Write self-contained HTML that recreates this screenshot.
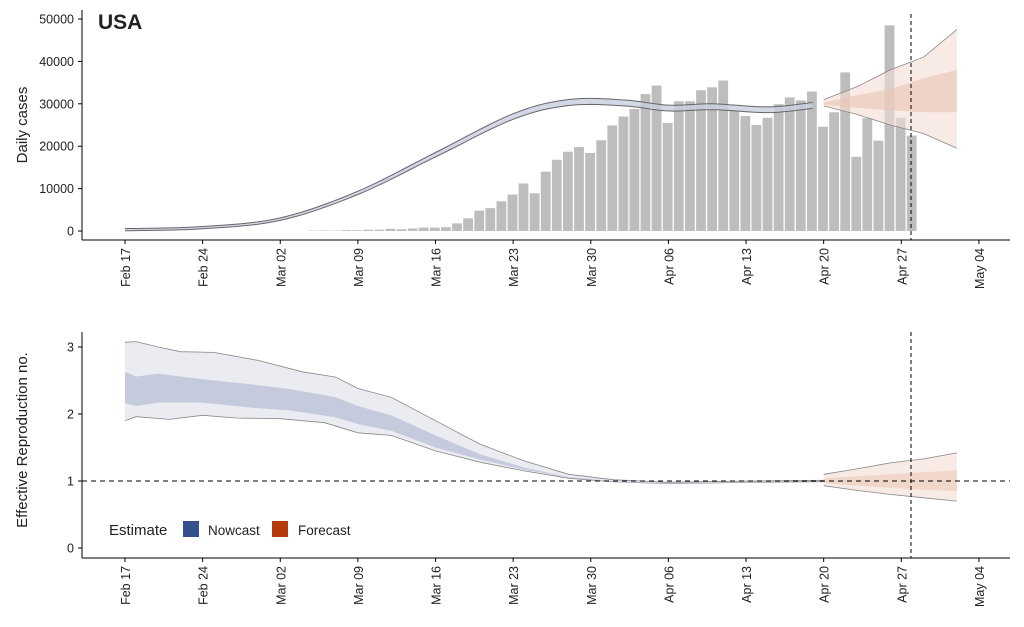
<!DOCTYPE html>
<html><head><meta charset="utf-8"><style>
body{margin:0;background:#fff;width:1024px;height:622px;overflow:hidden}
svg text{font-family:"Liberation Sans",sans-serif;fill:#222}
</style></head><body>
<svg id="s" width="1024" height="622" xmlns="http://www.w3.org/2000/svg"></svg>
<script>
const S=document.getElementById('s');let h='';
const X=d=>125+d*11.09;
const Y1=v=>231-v*4.24;
const bars=[0.1,0.1,0.1,0.2,0.2,0.3,0.3,0.5,0.4,0.6,0.8,0.8,0.9,1.8,3.0,4.8,5.4,7.0,8.6,11.2,8.9,14.0,16.8,18.7,19.8,18.4,21.4,24.9,27.0,28.8,32.3,34.3,25.5,30.6,30.6,33.2,33.9,35.5,28.4,27.1,25.0,26.7,29.9,31.5,30.8,32.9,24.6,28.0,37.4,17.5,26.6,21.3,48.5,26.7,22.5];
bars.forEach((v,i)=>{const d=16+i;h+=`<rect x="${(X(d)+5.5).toFixed(1)}" y="${Y1(v)}" width="9.8" height="${v*4.24}" fill="#bdbdbd"/>`;});
function interp(pts){const out=[];for(let i=0;i<pts.length-1;i++){const p0=pts[Math.max(0,i-1)],p1=pts[i],p2=pts[i+1],p3=pts[Math.min(pts.length-1,i+2)];for(let t=0;t<1;t+=0.1){const t2=t*t,t3=t2*t;const f=(a,b,c,d)=>0.5*((2*b)+(-a+c)*t+(2*a-5*b+4*c-d)*t2+(-a+3*b-3*c+d)*t3);out.push([f(p0[0],p1[0],p2[0],p3[0]),f(p0[1],p1[1],p2[1],p3[1])]);}}out.push(pts[pts.length-1]);return out;}
const nc=interp([[0,0.3],[7,0.8],[14,2.8],[21,9],[28,18],[35,27],[40,30.3],[45,30.2],[49,29],[53,29.3],[58,28.6],[62,29.6]]);
function path(pts,f){return pts.map((p,i)=>(i?'L':'M')+X(p[0]).toFixed(1)+','+f(p[1]).toFixed(1)).join('')}
const up=nc.map(p=>[p[0],p[1]*1.015+0.25]),lo=nc.map(p=>[p[0],p[1]*0.985-0.25]);
h+=`<path d="${path(up,Y1)}L${path(lo.slice().reverse(),Y1).slice(1)}Z" fill="#c9cde0" opacity="0.8"/>`;
h+=`<path d="${path(up,Y1)}" fill="none" stroke="#666" stroke-width="1"/><path d="${path(lo,Y1)}" fill="none" stroke="#666" stroke-width="1"/>`;
const fo_hi=[[63,31],[66,34],[69,38],[72,41],[75,47.5]],fo_lo=[[63,29.5],[66,27.5],[69,25],[72,23],[75,19.5]];
const fi_hi=[[63,30.3],[66,32],[69,33.5],[72,36],[75,38]],fi_lo=[[63,29.8],[66,29],[69,28.5],[72,28],[75,28]];
function band(a,b,f,c,op,st){let s=`<path d="${path(a,f)}L${path(b.slice().reverse(),f).slice(1)}Z" fill="${c}" opacity="${op}"/>`;if(st)s+=`<path d="${path(a,f)}" fill="none" stroke="#888" stroke-width=".8"/><path d="${path(b,f)}" fill="none" stroke="#888" stroke-width=".8"/>`;return s;}
h+=band(fo_hi,fo_lo,Y1,'#f3ddd3',0.6,1)+band(fi_hi,fi_lo,Y1,'#e9c3b2',0.6);
h+=`<line x1="82" y1="10" x2="82" y2="240" stroke="#000"/><line x1="82" y1="240" x2="1010" y2="240" stroke="#000"/>`;
[0,10000,20000,30000,40000,50000].forEach(v=>{const y=Y1(v/1000);h+=`<line x1="78" x2="82" y1="${y}" y2="${y}" stroke="#000"/><text x="74" y="${y+4.5}" font-size="12.5" text-anchor="end">${v}</text>`;});
const labs=['Feb 17','Feb 24','Mar 02','Mar 09','Mar 16','Mar 23','Mar 30','Apr 06','Apr 13','Apr 20','Apr 27','May 04'];
function xt(yb){labs.forEach((l,i)=>{const x=X(i*7);h+=`<line x1="${x}" x2="${x}" y1="${yb}" y2="${yb+4}" stroke="#000"/><text transform="translate(${x+5},${yb+8}) rotate(-90)" font-size="12.5" text-anchor="end">${l}</text>`;});}
xt(240);
h+=`<line x1="911" x2="911" y1="14" y2="240" stroke="#000" stroke-dasharray="4,3"/>`;
h+=`<text x="98" y="29" font-size="21" font-weight="bold">USA</text>`;
h+=`<text transform="translate(27,125) rotate(-90)" font-size="15" text-anchor="middle">Daily cases</text>`;
const Y2=v=>548-v*67;
const ou=[[0,3.07],[1,3.08],[3,3.0],[5,2.93],[8,2.92],[12,2.8],[16,2.63],[19,2.55],[21,2.38],[24,2.25],[28,1.9],[32,1.55],[36,1.3],[40,1.1],[44,1.02],[49,0.98],[56,1.0],[63,1.01]];
const ol=[[0,1.9],[1,1.96],[4,1.92],[7,1.98],[10,1.94],[14,1.93],[18,1.87],[21,1.72],[24,1.68],[28,1.45],[32,1.28],[36,1.15],[40,1.04],[44,0.99],[49,0.96],[56,0.98],[63,0.99]];
const iu=[[0,2.63],[1,2.56],[3,2.6],[7,2.52],[11,2.45],[15,2.37],[19,2.25],[21,2.12],[24,1.98],[28,1.68],[32,1.4],[36,1.2],[40,1.06],[44,1.0],[49,0.97],[56,0.99],[63,1.0]];
const il=[[0,2.16],[1,2.12],[3,2.17],[7,2.17],[11,2.1],[15,2.05],[19,1.95],[21,1.85],[24,1.75],[28,1.5],[32,1.32],[36,1.17],[40,1.05],[44,0.99],[49,0.96],[56,0.98],[63,1.0]];
h+=band(ou,ol,Y2,'#ebecf2',1,1)+band(iu,il,Y2,'#c5cbdd',1);
h+=band([[63,1.1],[66,1.18],[69,1.27],[72,1.33],[75,1.42]],[[63,0.93],[66,0.86],[69,0.8],[72,0.75],[75,0.7]],Y2,'#f5e3db',0.7,1);
h+=band([[63,1.04],[66,1.07],[69,1.1],[72,1.13],[75,1.16]],[[63,0.97],[66,0.93],[69,0.9],[72,0.87],[75,0.85]],Y2,'#ecc8b8',0.6);
h+=`<line x1="82" y1="481" x2="1010" y2="481" stroke="#000" stroke-dasharray="5,4"/>`;
h+=`<line x1="82" y1="332" x2="82" y2="558" stroke="#000"/><line x1="82" y1="558" x2="1010" y2="558" stroke="#000"/>`;
[0,1,2,3].forEach(v=>{const y=Y2(v);h+=`<line x1="78" x2="82" y1="${y}" y2="${y}" stroke="#000"/><text x="74" y="${y+4.5}" font-size="12.5" text-anchor="end">${v}</text>`;});
xt(558);
h+=`<line x1="911" x2="911" y1="332" y2="558" stroke="#000" stroke-dasharray="4,3"/>`;
h+=`<text transform="translate(27,440) rotate(-90)" font-size="15" text-anchor="middle">Effective Reproduction no.</text>`;
h+=`<text x="109" y="535" font-size="15">Estimate</text><rect x="183" y="521" width="16" height="16" fill="#35508c"/><text x="208" y="535" font-size="13.5">Nowcast</text><rect x="272" y="521" width="16" height="16" fill="#b5390b"/><text x="298" y="535" font-size="13.5">Forecast</text>`;
S.innerHTML=h;
</script>
</body></html>
